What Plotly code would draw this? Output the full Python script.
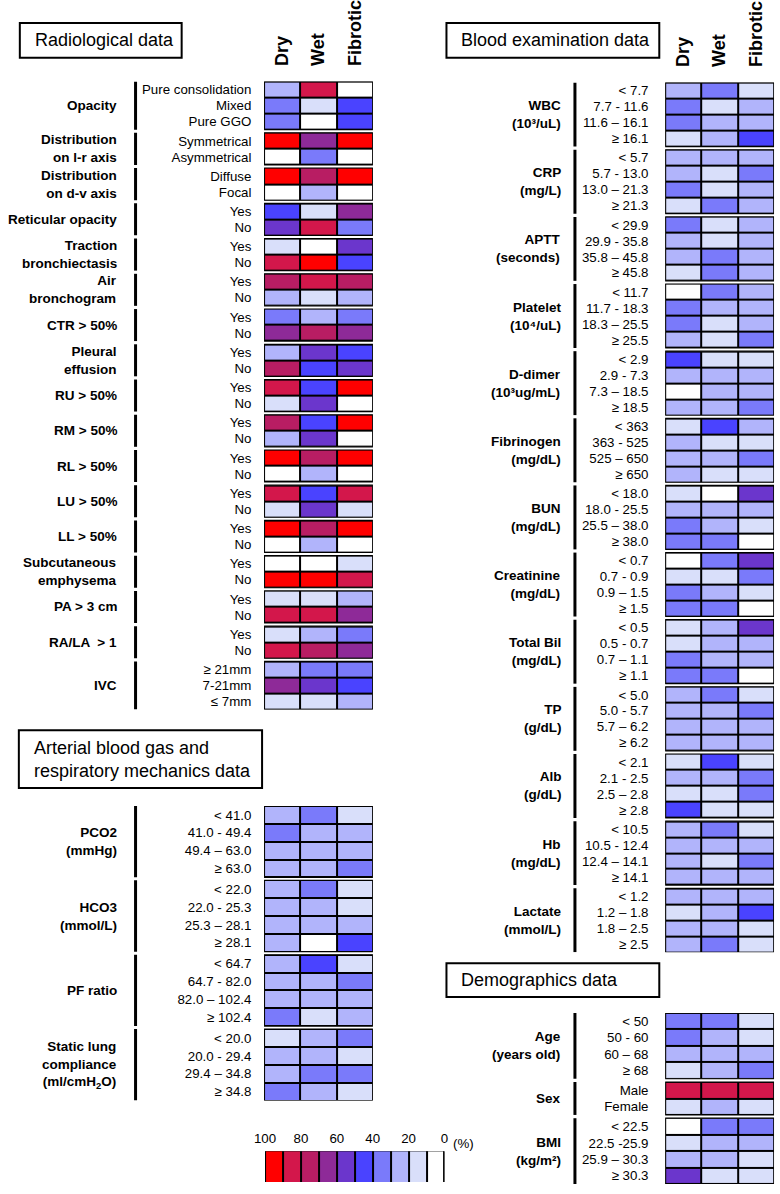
import plotly.graph_objects as go

W, H = 780, 1194
FONT = "Arial, 'Liberation Sans', Helvetica, sans-serif"

columns = ["Dry", "Wet", "Fibrotic"]

# ---------------- Radiological data (% of patients, estimated) ----------------
rad_groups = ["Opacity", "Distribution<br>on l-r axis", "Distribution<br>on d-v axis",
              "Reticular opacity", "Traction<br>bronchiectasis", "Air<br>bronchogram",
              "CTR > 50%", "Pleural<br>effusion", "RU > 50%", "RM > 50%", "RL > 50%",
              "LU > 50%", "LL > 50%", "Subcutaneous<br>emphysema", "PA > 3 cm",
              "RA/LA  > 1", "IVC"]
rad_rows = [["Pure consolidation", "Mixed", "Pure GGO"], ["Symmetrical", "Asymmetrical"],
            ["Diffuse", "Focal"], ["Yes", "No"], ["Yes", "No"], ["Yes", "No"], ["Yes", "No"],
            ["Yes", "No"], ["Yes", "No"], ["Yes", "No"], ["Yes", "No"], ["Yes", "No"],
            ["Yes", "No"], ["Yes", "No"], ["Yes", "No"], ["Yes", "No"],
            ["≥ 21mm", "7-21mm", "≤ 7mm"]]
rad_dry = [25, 35, 35, 95, 5, 95, 5, 45, 55, 15, 85, 75, 25, 35, 65, 25, 75, 85, 15,
           75, 25, 95, 5, 85, 15, 95, 5, 5, 95, 15, 85, 15, 85, 25, 65, 15]
rad_wet = [85, 15, 5, 65, 35, 75, 25, 15, 85, 5, 95, 85, 15, 25, 75, 55, 45, 45, 55,
           45, 55, 75, 25, 45, 55, 75, 25, 5, 95, 15, 85, 25, 75, 35, 55, 15]
rad_fib = [5, 45, 45, 95, 5, 95, 5, 65, 35, 55, 45, 75, 25, 35, 65, 45, 55, 95, 5,
           95, 5, 95, 5, 85, 15, 95, 5, 15, 85, 25, 65, 35, 65, 35, 45, 25]

# ---------------- Arterial blood gas and respiratory mechanics ----------------
abg_groups = ["PCO2<br>(mmHg)", "HCO3<br>(mmol/L)", "PF ratio",
              "Static lung<br>compliance<br>(ml/cmH<sub>2</sub>O)"]
abg_rows = [["&lt; 41.0", "41.0 - 49.4", "49.4 – 63.0", "≥ 63.0"],
            ["&lt; 22.0", "22.0 - 25.3", "25.3 – 28.1", "≥ 28.1"],
            ["&lt; 64.7", "64.7 - 82.0", "82.0 – 102.4", "≥ 102.4"],
            ["&lt; 20.0", "20.0 - 29.4", "29.4 – 34.8", "≥ 34.8"]]
abg_dry = [25, 35, 25, 25, 25, 25, 25, 25, 25, 25, 25, 35, 15, 25, 25, 35]
abg_wet = [35, 25, 25, 25, 35, 25, 25, 5, 45, 25, 25, 15, 25, 25, 35, 25]
abg_fib = [15, 25, 25, 35, 15, 15, 25, 45, 15, 35, 25, 25, 35, 15, 35, 15]

# ---------------- Blood examination data ----------------
bld_groups = ["WBC<br>(10³/uL)", "CRP<br>(mg/L)", "APTT<br>(seconds)", "Platelet<br>(10⁴/uL)",
              "D-dimer<br>(10³ug/mL)", "Fibrinogen<br>(mg/dL)", "BUN<br>(mg/dL)",
              "Creatinine<br>(mg/dL)", "Total Bil<br>(mg/dL)", "TP<br>(g/dL)", "Alb<br>(g/dL)",
              "Hb<br>(mg/dL)", "Lactate<br>(mmol/L)"]
bld_rows = [["&lt; 7.7", "7.7 - 11.6", "11.6 – 16.1", "≥ 16.1"],
            ["&lt; 5.7", "5.7 - 13.0", "13.0 – 21.3", "≥ 21.3"],
            ["&lt; 29.9", "29.9 - 35.8", "35.8 – 45.8", "≥ 45.8"],
            ["&lt; 11.7", "11.7 - 18.3", "18.3 – 25.5", "≥ 25.5"],
            ["&lt; 2.9", "2.9 - 7.3", "7.3 – 18.5", "≥ 18.5"],
            ["&lt; 363", "363 - 525", "525 – 650", "≥ 650"],
            ["&lt; 18.0", "18.0 - 25.5", "25.5 – 38.0", "≥ 38.0"],
            ["&lt; 0.7", "0.7 - 0.9", "0.9 – 1.5", "≥ 1.5"],
            ["&lt; 0.5", "0.5 - 0.7", "0.7 – 1.1", "≥ 1.1"],
            ["&lt; 5.0", "5.0 - 5.7", "5.7 – 6.2", "≥ 6.2"],
            ["&lt; 2.1", "2.1 - 2.5", "2.5 – 2.8", "≥ 2.8"],
            ["&lt; 10.5", "10.5 - 12.4", "12.4 – 14.1", "≥ 14.1"],
            ["&lt; 1.2", "1.2 – 1.8", "1.8 – 2.5", "≥ 2.5"]]
bld_dry = [25, 35, 35, 15, 25, 25, 35, 15, 35, 25, 25, 15, 5, 35, 35, 25,
           45, 25, 5, 25, 15, 25, 25, 25, 15, 25, 35, 35, 5, 15, 35, 35,
           15, 15, 35, 35, 25, 25, 25, 25, 15, 25, 15, 45, 25, 25, 25, 25,
           25, 15, 25, 25]
bld_wet = [35, 15, 25, 25, 25, 15, 15, 35, 15, 15, 35, 35, 35, 25, 15, 15,
           15, 25, 25, 25, 45, 15, 25, 15, 5, 25, 25, 35, 35, 15, 25, 35,
           25, 25, 25, 35, 35, 25, 25, 25, 45, 25, 15, 15, 35, 25, 15, 25,
           25, 25, 25, 35]
bld_fib = [15, 25, 25, 45, 25, 35, 25, 25, 25, 25, 25, 25, 25, 25, 25, 35,
           15, 25, 25, 35, 25, 15, 35, 15, 55, 25, 15, 5, 55, 35, 15, 5,
           55, 25, 25, 5, 15, 35, 25, 25, 15, 35, 35, 15, 15, 25, 35, 25,
           25, 45, 15, 15]

# ---------------- Demographics data ----------------
dem_groups = ["Age<br>(years old)", "Sex", "BMI<br>(kg/m²)"]
dem_rows = [["&lt; 50", "50 - 60", "60 – 68", "≥ 68"], ["Male", "Female"],
            ["&lt; 22.5", "22.5 -25.9", "25.9 – 30.3", "≥ 30.3"]]
dem_dry = [35, 35, 25, 15, 85, 15, 5, 15, 25, 55]
dem_wet = [35, 25, 25, 25, 85, 25, 35, 25, 25, 15]
dem_fib = [15, 15, 25, 35, 85, 15, 35, 25, 15, 15]

# ---------------- Colour legend ----------------
legend_levels = [95, 85, 75, 65, 55, 45, 35, 25, 15, 5]
legend_ticks = ["100", "80", "60", "40", "20", "0"]

level_colors = ["#FFFFFF", "#D9DFFA", "#B1B4FB", "#7A7AFA", "#4A43FF",
                "#6B36CC", "#8E2A98", "#B81D63", "#D3174B", "#FF0000"]

colorscale = []
for i, c in enumerate(level_colors):
    colorscale.append([i / 10, c])
    colorscale.append([(i + 1) / 10, c])

fig = go.Figure()
shapes = []
annotations = []
layout_axes = {}


def px_x(v):
    return v / W


def px_y(v):
    return 1 - v / H


def add_panel(n, groups, rows, dry, wet, fib, left, right, top, bottom,
              label_x, bar_x, tick_len, header, gap=0.2):
    xa = "x" if n == 1 else f"x{n}"
    ya = "y" if n == 1 else f"y{n}"
    z, edges, centers, texts, spans = [], [0.0], [], [], []
    pos = 0.0
    k = 0
    for gi, (g, rl) in enumerate(zip(groups, rows)):
        start = pos
        for r in rl:
            z.append([dry[k], wet[k], fib[k]])
            centers.append(pos + 0.5)
            texts.append(r)
            pos += 1
            edges.append(pos)
            k += 1
        spans.append((start, pos))
        if gi < len(groups) - 1:
            z.append([None, None, None])
            pos += gap
            edges.append(pos)
    total = pos
    fig.add_trace(go.Heatmap(z=z, x=columns, y=edges, coloraxis="coloraxis",
                             xgap=2, ygap=2, xaxis=xa, yaxis=ya, hoverongaps=False))
    key = "" if n == 1 else str(n)
    layout_axes["xaxis" + key] = dict(
        domain=[px_x(left), px_x(right)], anchor=ya, type="category",
        range=[-0.5, 2.5], side="top", showgrid=False, zeroline=False,
        showline=False, showticklabels=header, tickangle=-90,
        ticks="outside" if header else "", ticklen=11, tickcolor="rgba(0,0,0,0)",
        tickfont=dict(family=FONT, size=18, color="black", weight="bold"),
        fixedrange=True)
    layout_axes["yaxis" + key] = dict(
        domain=[px_y(bottom), px_y(top)], anchor=xa, range=[total, 0],
        tickvals=centers, ticktext=texts, showgrid=False, zeroline=False,
        showline=False, ticks="outside", ticklen=tick_len,
        tickcolor="rgba(0,0,0,0)",
        tickfont=dict(family=FONT, size=13.3, color="black"), fixedrange=True)
    for (s, e), g in zip(spans, groups):
        shapes.append(dict(type="rect", xref=xa, yref=ya, x0=-0.5, x1=2.5, y0=s, y1=e,
                           fillcolor="black", line=dict(color="black", width=1.2),
                           layer="below"))
        shapes.append(dict(type="line", xref="paper", yref=ya, x0=px_x(bar_x),
                           x1=px_x(bar_x), y0=s, y1=e, line=dict(color="black", width=3)))
        annotations.append(dict(xref="paper", yref=ya, x=px_x(label_x), y=(s + e) / 2,
                                xanchor="right", yanchor="middle", align="right",
                                text=g, showarrow=False,
                                font=dict(family=FONT, size=13.5, color="black",
                                          weight="bold")))


add_panel(1, rad_groups, rad_rows, rad_dry, rad_wet, rad_fib,
          258, 369, 76, 707, 110, 127, 9, True)
add_panel(2, abg_groups, abg_rows, abg_dry, abg_wet, abg_fib,
          258, 369, 804, 1100, 110, 127, 9, False, gap=0.17)
add_panel(3, bld_groups, bld_rows, bld_dry, bld_wet, bld_fib,
          667, 778, 77, 951, 563, 575, 13, True)
add_panel(4, dem_groups, dem_rows, dem_dry, dem_wet, dem_fib,
          667, 778, 1012, 1184, 563, 575, 13, False)

# colour legend as a heatmap strip
fig.add_trace(go.Heatmap(z=[legend_levels], x=list(range(11)), y=[0, 1],
                         coloraxis="coloraxis", xgap=2, ygap=0,
                         xaxis="x5", yaxis="y5", hoverinfo="skip"))
layout_axes["xaxis5"] = dict(domain=[px_x(259), px_x(442)], anchor="y5", range=[0, 10],
                             side="top", tickvals=[0, 2, 4, 6, 8, 10], ticktext=legend_ticks,
                             ticks="outside", ticklen=2, tickcolor="rgba(0,0,0,0)",
                             showgrid=False, zeroline=False, showline=False,
                             tickfont=dict(family=FONT, size=13.3, color="black"),
                             fixedrange=True)
layout_axes["yaxis5"] = dict(domain=[px_y(1182), px_y(1151)], anchor="x5", range=[0, 1],
                             showticklabels=False, showgrid=False, zeroline=False,
                             showline=False, fixedrange=True)
shapes.append(dict(type="rect", xref="x5", yref="y5", x0=0, x1=10, y0=0, y1=1,
                   fillcolor="black", line=dict(color="black", width=1.5), layer="below"))
annotations.append(dict(xref="paper", yref="paper", x=px_x(449), y=px_y(1143),
                        xanchor="left", yanchor="middle", text="(%)", showarrow=False,
                        font=dict(family=FONT, size=13.3, color="black")))

# section title boxes
titles = [
    ("Radiological data", 9, 174, 17, 52),
    ("Blood examination data", 444, 661, 17, 52),
    ("Arterial blood gas and<br>respiratory mechanics data", 8, 256, 728, 786),
    ("Demographics data", 444, 661, 962, 996),
]
for text, x0, x1, y0, y1 in titles:
    shapes.append(dict(type="rect", xref="paper", yref="paper", x0=px_x(x0), x1=px_x(x1),
                       y0=px_y(y1), y1=px_y(y0), line=dict(color="black", width=2),
                       fillcolor="rgba(0,0,0,0)"))
    annotations.append(dict(xref="paper", yref="paper", x=px_x(x0 + 13),
                            y=px_y((y0 + y1) / 2), xanchor="left", yanchor="middle",
                            align="left", text=text, showarrow=False,
                            font=dict(family=FONT, size=18, color="black")))

fig.update_layout(
    width=W, height=H, margin=dict(l=0, r=0, t=0, b=0),
    paper_bgcolor="white", plot_bgcolor="white", showlegend=False,
    coloraxis=dict(colorscale=colorscale, cmin=0, cmax=100, showscale=False),
    shapes=shapes, annotations=annotations, **layout_axes)

fig.write_html("out.html", config={"displayModeBar": False},
               post_script="document.body.style.margin='0';document.body.style.overflow='hidden';")
